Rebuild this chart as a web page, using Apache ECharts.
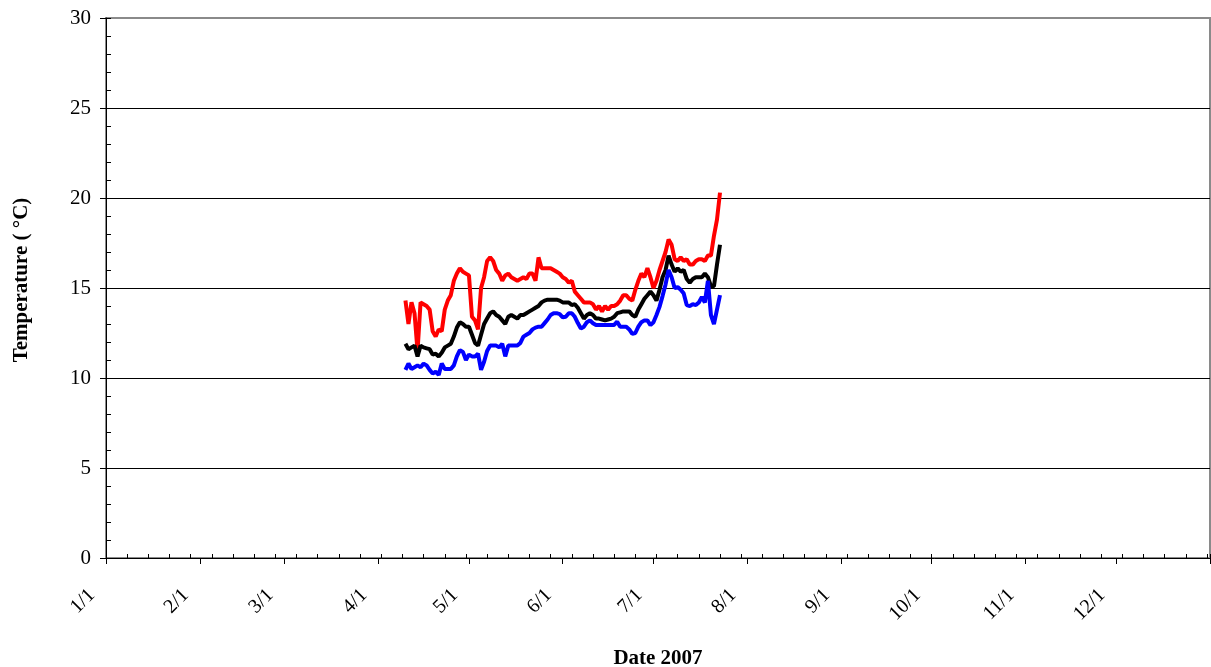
<!DOCTYPE html>
<html>
<head>
<meta charset="utf-8">
<script src="https://cdn.jsdelivr.net/npm/echarts@6/dist/echarts.min.js"></script>
<style>
  html, body { margin: 0; padding: 0; background: #fff; }
  #chart { width: 1211px; height: 667px; }
</style>
</head>
<body>
<div id="chart"></div>
<script>
// ---- data (daily values, 2007) ----
const firstDate = '2007-04-10';
const monthLabels = ['1/1','2/1','3/1','4/1','5/1','6/1','7/1','8/1','9/1','10/1','11/1','12/1'];
const yTicks = [0, 5, 10, 15, 20, 25, 30];

const maxTemp = [
  14.3,13.0,14.2,13.6,11.5,14.2,14.1,14.0,13.8,12.6,
  12.3,12.7,12.6,13.8,14.3,14.6,15.4,15.8,16.1,15.9,
  15.8,15.7,13.4,13.2,12.7,15.0,15.6,16.5,16.7,16.5,
  16.0,15.8,15.4,15.7,15.8,15.6,15.5,15.4,15.5,15.6,
  15.5,15.8,15.8,15.4,16.7,16.1,16.1,16.1,16.1,16.0,
  15.9,15.8,15.6,15.5,15.3,15.4,14.8,14.6,14.4,14.2,
  14.2,14.2,14.1,13.8,14.0,13.7,14.0,13.8,14.0,14.0,
  14.1,14.3,14.6,14.6,14.4,14.3,14.9,15.4,15.8,15.6,
  16.1,15.6,15.0,15.4,16.0,16.5,17.0,17.7,17.4,16.6,
  16.5,16.7,16.5,16.6,16.3,16.3,16.5,16.6,16.6,16.5,
  16.8,16.8,17.9,18.8,20.3
];
const meanTemp = [
  11.9,11.6,11.7,11.8,11.2,11.8,11.7,11.65,11.6,11.3,
  11.35,11.2,11.4,11.7,11.8,11.9,12.3,12.8,13.1,13.0,
  12.85,12.85,12.4,11.95,11.8,12.4,13.0,13.3,13.6,13.7,
  13.5,13.4,13.2,13.0,13.4,13.5,13.4,13.3,13.5,13.5,
  13.6,13.7,13.8,13.9,14.0,14.2,14.3,14.35,14.35,14.35,
  14.35,14.3,14.2,14.2,14.2,14.05,14.1,13.9,13.6,13.3,
  13.5,13.6,13.5,13.3,13.3,13.25,13.2,13.25,13.3,13.4,
  13.6,13.65,13.7,13.7,13.7,13.5,13.4,13.8,14.1,14.4,
  14.6,14.8,14.6,14.3,14.9,15.6,16.0,16.8,16.3,15.9,
  16.1,15.9,16.0,15.5,15.3,15.5,15.6,15.6,15.6,15.8,
  15.6,15.1,15.1,16.3,17.4
];
const minTemp = [
  10.45,10.8,10.5,10.6,10.7,10.6,10.8,10.7,10.45,10.25,
  10.35,10.17,10.8,10.5,10.5,10.5,10.7,11.2,11.55,11.45,
  11.0,11.3,11.2,11.2,11.35,10.45,10.9,11.5,11.8,11.8,
  11.8,11.7,11.9,11.2,11.8,11.8,11.8,11.8,11.95,12.3,
  12.4,12.5,12.7,12.8,12.85,12.85,13.05,13.25,13.5,13.6,
  13.6,13.55,13.37,13.4,13.6,13.6,13.4,13.05,12.75,12.85,
  13.1,13.2,13.04,12.94,12.94,12.94,12.94,12.94,12.94,12.95,
  13.13,12.85,12.85,12.85,12.7,12.45,12.5,12.85,13.1,13.2,
  13.2,12.94,13.1,13.5,13.95,14.55,15.2,16.0,15.6,15.0,
  15.05,14.9,14.7,14.05,14.0,14.1,14.05,14.2,14.5,14.2,
  15.4,13.5,13.0,13.8,14.6
];

// ---- helpers ----
const DAY = 86400000;
const yearStart = Date.UTC(2007, 0, 1);
function dayOfYear(y, m, d) { return (Date.UTC(y, m, d) - yearStart) / DAY; }
const fp = firstDate.split('-').map(Number);
const startDay = dayOfYear(fp[0], fp[1] - 1, fp[2]);
const monthDays = [];
for (let m = 0; m <= 12; m++) monthDays.push(dayOfYear(2007, m, 1));
const yearEnd = monthDays[12];
const toPairs = arr => arr.map((v, i) => [startDay + i, v]);

const FONT = '"Liberation Serif", "Times New Roman", serif';

const chart = echarts.init(document.getElementById('chart'), null, { renderer: 'canvas' });
chart.setOption({
  animation: false,
  backgroundColor: '#ffffff',
  grid: {
    left: 106, right: 1, top: 18, bottom: 109,
    outerBoundsMode: 'none', containLabel: false,
    show: true, borderColor: '#8a8a8a', borderWidth: 2, backgroundColor: 'transparent'
  },
  xAxis: [
    {
      type: 'value', min: 0, max: yearEnd, position: 'bottom',
      name: 'Date 2007', nameLocation: 'middle', nameGap: 90,
      nameTextStyle: { fontFamily: FONT, fontWeight: 'bold', fontSize: 21, color: '#000' },
      axisLine: { show: true, lineStyle: { color: '#000', width: 1 } },
      axisTick: { show: true, inside: false, length: 6, customValues: monthDays, lineStyle: { color: '#000' } },
      axisLabel: {
        show: true, customValues: monthDays.slice(0, 12), rotate: 45, margin: 20,
        padding: [0, 20, 0, 0],
        fontFamily: FONT, fontSize: 20, color: '#000',
        formatter: v => { const i = monthDays.indexOf(v); return i >= 0 && i < 12 ? monthLabels[i] : ''; }
      },
      splitLine: { show: false }
    },
    {
      type: 'value', min: 0, max: yearEnd, interval: 7, position: 'bottom',
      axisLine: { show: false },
      axisTick: { show: true, inside: true, length: 4, lineStyle: { color: '#000' } },
      axisLabel: { show: false },
      splitLine: { show: false }
    }
  ],
  yAxis: [
    {
      type: 'value', min: 0, max: 30, interval: 5, position: 'left',
      name: 'Temperature ( °C)', nameLocation: 'middle', nameGap: 74,
      nameTextStyle: { fontFamily: FONT, fontWeight: 'bold', fontSize: 21, color: '#000', padding: [0, 0, 0, 16] },
      axisLine: { show: true, lineStyle: { color: '#000', width: 1 } },
      axisTick: { show: true, inside: false, length: 6, lineStyle: { color: '#000' } },
      axisLabel: {
        show: true, margin: 15, fontFamily: FONT, fontSize: 21, color: '#000',
        customValues: yTicks, formatter: v => String(v)
      },
      splitLine: { show: true, showMinLine: false, showMaxLine: false, lineStyle: { color: '#000', width: 1 } }
    },
    {
      type: 'value', min: 0, max: 30, interval: 1, position: 'left',
      axisLine: { show: false },
      axisTick: { show: true, inside: true, length: 5, lineStyle: { color: '#000' } },
      axisLabel: { show: false },
      splitLine: { show: false }
    }
  ],
  series: [
    { name: 'Max', type: 'line', data: toPairs(maxTemp), showSymbol: false, symbol: 'none',
      lineStyle: { color: '#ff0000', width: 4 }, itemStyle: { color: '#ff0000' }, z: 3 },
    { name: 'Mean', type: 'line', data: toPairs(meanTemp), showSymbol: false, symbol: 'none',
      lineStyle: { color: '#000000', width: 4 }, itemStyle: { color: '#000000' }, z: 4 },
    { name: 'Min', type: 'line', data: toPairs(minTemp), showSymbol: false, symbol: 'none',
      lineStyle: { color: '#0000ff', width: 4 }, itemStyle: { color: '#0000ff' }, z: 5 }
  ]
});
</script>
</body>
</html>
